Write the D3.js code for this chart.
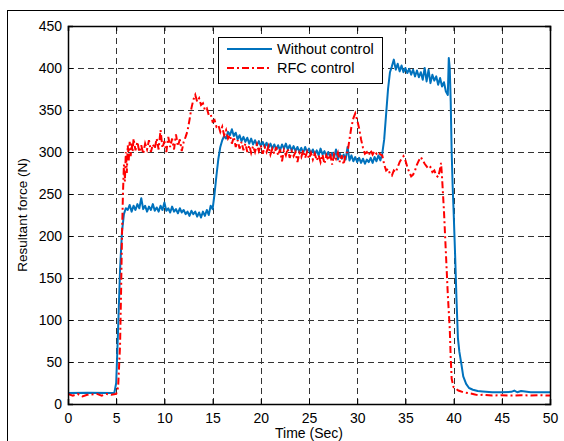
<!DOCTYPE html>
<html><head><meta charset="utf-8">
<script src="https://cdn.jsdelivr.net/npm/d3@7"></script>
<style>body{margin:0;background:#fff}svg{display:block}text{font-family:"Liberation Sans",Arial,sans-serif;fill:#000}</style>
</head><body>
<script>
const xTicks = [0,5,10,15,20,25,30,35,40,45,50];
const yTicks = [0,50,100,150,200,250,300,350,400,450];
const seriesNames = ["Without control","RFC control"];

const blueTime = [0,2,4.8,5.0,5.2,5.4,5.6,5.8,6.0,6.2,6.4,6.6,6.8,7.0,7.2,7.4,7.6,7.8,8.0,8.2,8.4,8.6,8.8,9.0,9.2,9.4,9.6,9.8,10.0,10.2,10.4,10.6,10.8,11.0,11.2,11.4,11.6,11.8,12.0,12.2,12.4,12.6,12.8,13.0,13.2,13.4,13.6,13.8,14.0,14.2,14.4,14.6,14.8,15.0,15.2,15.4,15.6,15.8,16.0,16.2,16.4,16.6,16.8,17.0,17.2,17.4,17.6,17.8,18.0,18.2,18.4,18.6,18.8,19.0,19.2,19.4,19.6,19.8,20.0,20.2,20.4,20.6,20.8,21.0,21.2,21.4,21.6,21.8,22.0,22.2,22.4,22.6,22.8,23.0,23.2,23.4,23.6,23.8,24.0,24.2,24.4,24.6,24.8,25.0,25.2,25.4,25.6,25.8,26.0,26.2,26.4,26.6,26.8,27.0,27.2,27.4,27.6,27.8,28.0,28.2,28.4,28.6,28.8,29.0,29.2,29.4,29.6,29.8,30.0,30.2,30.4,30.6,30.8,31.0,31.2,31.4,31.6,31.8,32.0,32.2,32.4,32.6,32.8,33.0,33.2,33.4,33.6,33.8,34.0,34.2,34.4,34.6,34.8,35.0,35.2,35.4,35.6,35.8,36.0,36.2,36.4,36.6,36.8,37.0,37.2,37.4,37.6,37.8,38.0,38.2,38.4,38.6,38.8,39.0,39.2,39.4,39.5,39.6,39.7,39.8,39.9,40.0,40.15,40.3,40.45,40.6,40.8,41.0,41.3,41.6,42.0,42.5,43.0,44,45,46,46.3,46.6,47,48,50];
const blueForce = [13,13.5,13,25,90,160,205,226,233,231,237,229,236,231,238,233,245,232,236,229,235,231,238,230,234,229,236,231,240,230,233,228,235,229,232,227,233,228,231,226,229,224,230,226,229,223,228,222,229,224,231,225,236,232,250,272,292,306,314,319,316,324,320,327,319,323,315,320,313,318,312,317,310,316,309,314,308,313,307,312,306,311,305,310,304,309,303,308,302,309,304,310,303,308,302,307,301,306,300,305,299,306,300,304,298,303,297,302,296,304,297,301,295,300,294,299,293,303,291,298,292,297,291,306,290,296,289,294,288,293,287,292,286,291,288,293,287,294,289,296,290,298,315,345,375,395,402,410,398,405,396,403,395,400,394,399,392,398,390,397,389,395,386,400,384,398,382,392,385,390,380,388,378,383,372,368,412,400,360,300,260,230,180,125,78,62,48,33,24,19,17,15.5,15,14,14,14.5,16,14,15.5,14,14];

const redTime = [0,0.5,1,1.5,2,3,3.5,4,4.5,5.0,5.2,5.4,5.5,5.6,5.7,5.8,5.9,6.0,6.1,6.2,6.3,6.4,6.5,6.6,6.7,6.8,7.0,7.2,7.4,7.6,7.8,8.0,8.2,8.4,8.6,8.8,9.0,9.2,9.4,9.6,9.8,10.0,10.2,10.4,10.6,10.8,11.0,11.2,11.4,11.6,11.8,12.0,12.2,12.4,12.6,12.8,13.0,13.2,13.4,13.6,13.8,14.0,14.2,14.4,14.6,14.8,15.0,15.2,15.4,15.6,15.8,16.0,16.2,16.4,16.6,16.8,17.0,17.2,17.4,17.6,17.8,18.0,18.2,18.4,18.6,18.8,19.0,19.2,19.4,19.6,19.8,20.0,20.2,20.4,20.6,20.8,21.0,21.2,21.4,21.6,21.8,22.0,22.2,22.4,22.6,22.8,23.0,23.2,23.4,23.6,23.8,24.0,24.2,24.4,24.6,24.8,25.0,25.2,25.4,25.6,25.8,26.0,26.2,26.4,26.6,26.8,27.0,27.2,27.4,27.6,27.8,28.0,28.2,28.4,28.6,28.8,29.0,29.2,29.4,29.6,29.8,30.0,30.2,30.4,30.6,30.8,31.0,31.2,31.4,31.6,31.8,32.0,32.2,32.4,32.6,32.8,33.0,33.2,33.4,33.6,33.8,34.0,34.2,34.4,34.6,34.8,35.0,35.2,35.4,35.6,35.8,36.0,36.2,36.4,36.6,36.8,37.0,37.2,37.4,37.6,37.8,38.0,38.2,38.4,38.6,38.7,38.8,39.0,39.2,39.4,39.6,39.7,39.8,40.0,40.5,41,41.5,42,42.5,43,44,45,46,47,48,49,50];
const redForce = [12,10,12,9,11,12,10,12,11,12,20,70,130,200,250,285,265,300,275,308,290,312,295,310,300,316,302,312,300,308,298,310,303,314,300,309,304,316,303,326,305,313,300,318,306,316,303,321,307,315,301,312,318,325,338,352,362,368,360,364,356,358,350,352,344,345,336,338,330,332,324,330,320,326,316,320,310,318,306,314,304,312,302,310,300,308,299,307,300,309,301,308,298,306,300,307,297,304,298,306,296,303,289,302,296,304,293,301,295,300,288,299,294,302,293,300,292,299,291,298,290,296,288,297,286,296,290,298,285,297,292,299,288,296,285,298,300,315,330,340,346,338,328,315,305,298,300,296,302,297,301,298,300,297,296,285,278,280,274,272,278,276,282,288,292,295,290,282,276,271,273,278,285,290,294,290,286,283,280,282,276,278,272,270,280,287,270,230,180,130,90,55,30,20,16,14,13,12,10.5,11,10,10.5,10,10.5,10,10.5,10];

const W = 564, H = 441;
const m = {left:68, right:550, top:26, bottom:404};
const svg = d3.select("body").append("svg").attr("width",W).attr("height",H);
svg.append("rect").attr("width",W).attr("height",H).attr("fill","#fff");
svg.append("rect").attr("x",7.5).attr("y",10.5).attr("width",700).attr("height",600)
  .attr("fill","none").attr("stroke","#000").attr("stroke-width",1);

const x = d3.scaleLinear().domain([0,50]).range([m.left,m.right]);
const y = d3.scaleLinear().domain([0,450]).range([m.bottom,m.top]);

// grid
const grid = svg.append("g").attr("stroke","#333").attr("stroke-width",1).attr("stroke-dasharray","6,4");
grid.selectAll(".gx").data(xTicks.slice(1,-1)).join("line")
  .attr("x1",d=>Math.round(x(d))+0.5).attr("x2",d=>Math.round(x(d))+0.5)
  .attr("y1",m.bottom).attr("y2",m.top);
grid.selectAll(".gy").data(yTicks.slice(1,-1)).join("line")
  .attr("y1",d=>Math.round(y(d))+0.5).attr("y2",d=>Math.round(y(d))+0.5)
  .attr("x1",m.left).attr("x2",m.right);

// data lines
svg.append("clipPath").attr("id","clip").append("rect")
  .attr("x",m.left).attr("y",m.top).attr("width",m.right-m.left).attr("height",m.bottom-m.top);
const line = d3.line().x(d=>x(d[0])).y(d=>y(d[1]));
const blue = blueTime.map((t,i)=>[t,blueForce[i]]);
const red = redTime.map((t,i)=>[t,redForce[i]]);
const plot = svg.append("g").attr("clip-path","url(#clip)");
plot.append("path").datum(blue).attr("d",line).attr("fill","none")
  .attr("stroke","#0072BD").attr("stroke-width",2).attr("stroke-linejoin","round");
plot.append("path").datum(red).attr("d",line).attr("fill","none")
  .attr("stroke","#ff0000").attr("stroke-width",2).attr("stroke-dasharray","7,3,2,3");

// axes
const axB = svg.append("g").attr("transform",`translate(0,${m.bottom})`)
  .call(d3.axisBottom(x).tickValues(xTicks).tickSize(-5).tickPadding(9).tickFormat(d3.format("d")));
const axT = svg.append("g").attr("transform",`translate(0,${m.top})`)
  .call(d3.axisTop(x).tickValues(xTicks).tickSize(-5).tickFormat(""));
const axL = svg.append("g").attr("transform",`translate(${m.left},0)`)
  .call(d3.axisLeft(y).tickValues(yTicks).tickSize(-5).tickPadding(6).tickFormat(d3.format("d")));
const axR = svg.append("g").attr("transform",`translate(${m.right},0)`)
  .call(d3.axisRight(y).tickValues(yTicks).tickSize(-5).tickFormat(""));
[axB,axT,axL,axR].forEach(a=>{
  a.selectAll(".domain").attr("stroke","#000").attr("stroke-width",1.5);
  a.selectAll(".tick line").attr("stroke","#000");
  a.selectAll("text").attr("font-size",14).attr("font-family","Liberation Sans, Arial, sans-serif").attr("fill","#000");
});

// labels
svg.append("text").attr("x",(m.left+m.right)/2).attr("y",438).attr("text-anchor","middle")
  .attr("font-size",14).text("Time (Sec)");
svg.append("text").attr("transform",`translate(27,${(m.top+m.bottom)/2}) rotate(-90)`)
  .attr("text-anchor","middle").attr("font-size",13.5).text("Resultant force (N)");

// legend
const lg = svg.append("g");
lg.append("rect").attr("x",218.5).attr("y",37.5).attr("width",164).attr("height",46)
  .attr("fill","#fff").attr("stroke","#000").attr("stroke-width",1);
const styles = [{c:"#0072BD",d:null},{c:"#ff0000",d:"7,3,2,3"}];
seriesNames.forEach((n,i)=>{
  const yy = 49 + i*19;
  lg.append("line").attr("x1",227).attr("x2",272).attr("y1",yy).attr("y2",yy)
    .attr("stroke",styles[i].c).attr("stroke-width",2).attr("stroke-dasharray",styles[i].d);
  lg.append("text").attr("x",277).attr("y",yy+5).attr("font-size",14.5).text(n);
});
</script>
</body></html>
